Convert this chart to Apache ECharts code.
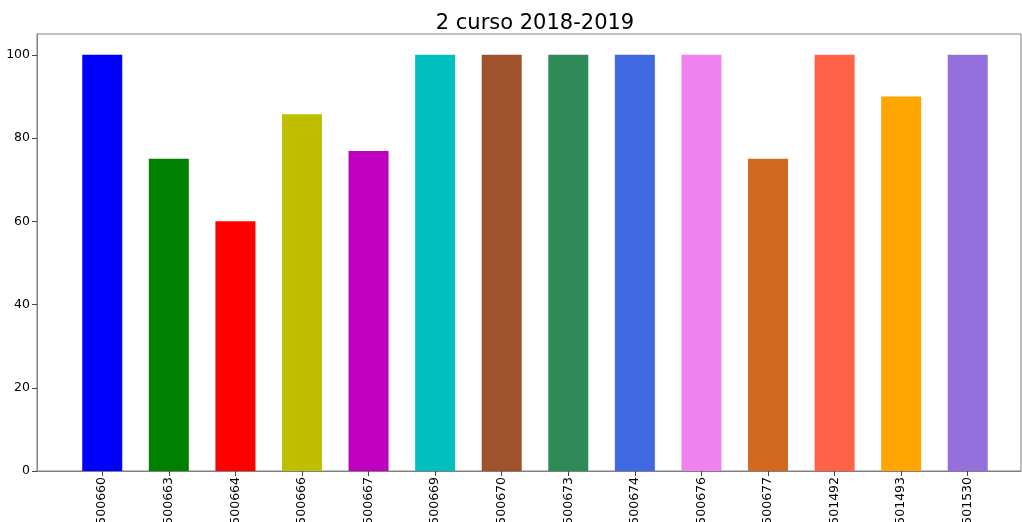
<!DOCTYPE html>
<html>
<head>
<meta charset="utf-8">
<script src="https://cdn.jsdelivr.net/npm/echarts@6/dist/echarts.min.js"></script>
<style>html,body{margin:0;padding:0;background:#fff}#c{width:1022px;height:522px}</style>
</head>
<body>
<div id="c"></div>
<script>
const title = "2 curso 2018-2019";
const categories = ["500660","500663","500664","500666","500667","500669","500670","500673","500674","500676","500677","501492","501493","501530"];
const values = [100, 75, 60, 85.7, 76.9, 100, 100, 100, 100, 100, 75, 100, 90, 100];
const colors = ["#0000ff","#008000","#ff0000","#bfbf00","#bf00bf","#00bfbf","#a0522d","#2e8b57","#4169e1","#ee82ee","#d2691e","#ff6347","#ffa500","#9370db"];
const yTicks = [0, 20, 40, 60, 80, 100];

const chart = echarts.init(document.getElementById('c'));
const idx = categories.map((_, i) => i);
chart.setOption({
  animation: false,
  title: {
    text: title, left: 530, top: 8, textAlign: 'center',
    textStyle: {fontFamily: 'DejaVu Sans', fontSize: 21, fontWeight: 'normal', color: '#000'}
  },
  grid: {left: 37, top: 34, width: 984, bottom: 51, show: true, borderColor: '#808080', borderWidth: 1, containLabel: false, outerBoundsMode: 'none'},
  xAxis: {
    type: 'value', min: -0.98, max: 13.8,
    splitLine: {show: false},
    axisLine: {show: true, onZero: false, lineStyle: {color: '#808080'}},
    axisTick: {show: true, length: 5, customValues: idx, lineStyle: {color: '#444'}},
    axisLabel: {
      customValues: idx, rotate: 90, margin: 6,
      formatter: v => categories[Math.round(v)] || '',
      fontFamily: 'DejaVu Sans', fontSize: 12.5, color: '#000'
    }
  },
  yAxis: {
    type: 'value', min: 0, max: 105,
    splitLine: {show: false},
    axisLine: {show: true, onZero: false, lineStyle: {color: '#808080'}},
    axisTick: {show: true, length: 5, customValues: yTicks, lineStyle: {color: '#444'}},
    axisLabel: {customValues: yTicks, margin: 7, fontFamily: 'DejaVu Sans', fontSize: 12.5, color: '#000'}
  },
  series: [{
    type: 'bar',
    barWidth: 40,
    data: values.map((v, i) => ({value: [i, v], itemStyle: {color: colors[i]}}))
  }]
});
</script>
</body>
</html>
